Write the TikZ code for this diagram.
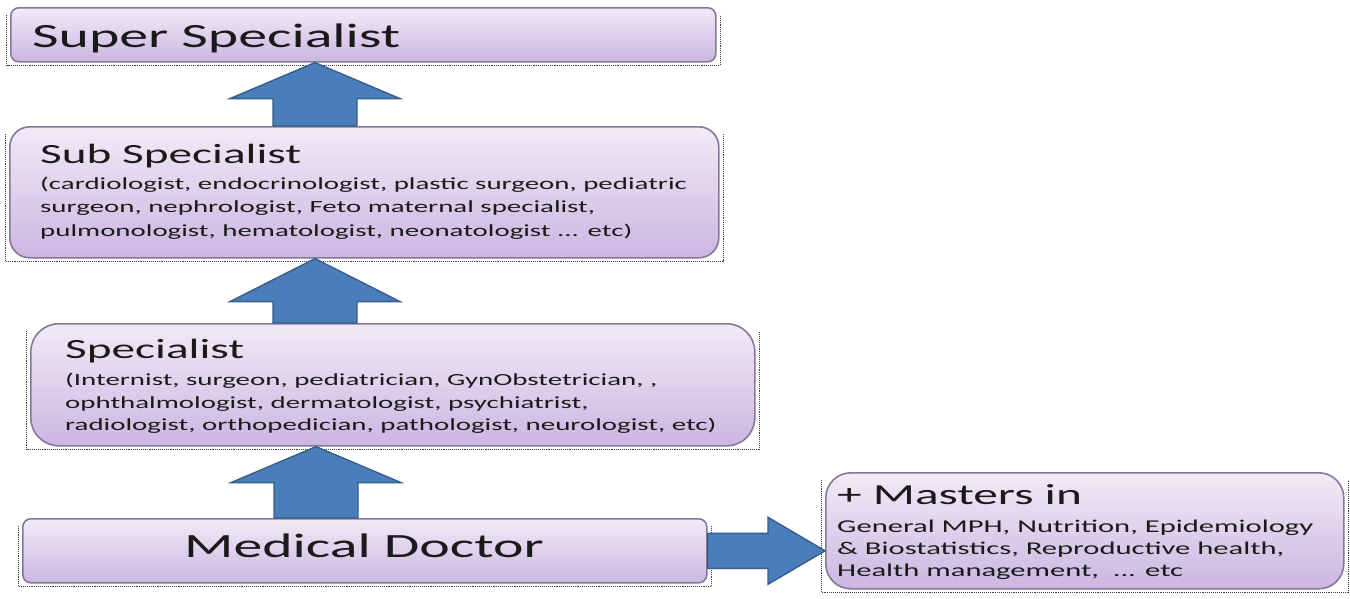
\documentclass[tikz,border=0pt]{standalone}
\usepackage{fontspec}
\setmainfont{Carlito}[FakeStretch=1.7]
\usetikzlibrary{calc}
\definecolor{boxtop}{HTML}{F1EBF7}
\definecolor{boxbot}{HTML}{CBB6E1}
\definecolor{boxline}{HTML}{86789A}
\definecolor{arrfill}{HTML}{4A7EBB}
\definecolor{arrline}{HTML}{385D8A}
\definecolor{ink}{HTML}{1A1A1A}
\tikzset{
  levelbox/.style={draw=boxline, line width=1.6pt, top color=boxtop, bottom color=boxbot,
    anchor=north west, inner sep=0pt, rectangle},
  blockarrow/.style={draw=arrline, fill=arrfill, line width=1.4pt, line join=miter},
  edgeshade/.style={black!75, densely dotted, line width=1.1pt},
  bigtext/.style={anchor=base west, inner sep=0pt, text=ink, font=\fontsize{34}{40}\selectfont},
  midtext/.style={anchor=base west, inner sep=0pt, text=ink, font=\fontsize{27.8}{32}\selectfont},
  smalltext/.style={anchor=base west, inner sep=0pt, text=ink, font=\fontsize{17}{20}\selectfont},
  masttitle/.style={anchor=base west, inner sep=0pt, text=ink, font=\fontsize{29}{34}\selectfont},
  mastsmall/.style={anchor=base west, inner sep=0pt, text=ink, font=\fontsize{18}{21}\selectfont},
}
% dotted edge under a box: left side, bottom, right side
\newcommand\edgeunder[1]{%
  \draw[edgeshade] ([xshift=-3.5pt,yshift=-8pt]#1.north west) -- ([xshift=-3.5pt,yshift=-3pt]#1.south west)
    -- ([xshift=3.5pt,yshift=-3pt]#1.south east) -- ([xshift=3.5pt,yshift=-8pt]#1.north east);}
% upward block arrow: #1 lower node, #2 upper node, #3 centre x, #4 head length
\newcommand\uparrowbetween[4]{%
  \draw[blockarrow] let \p1=(#1.north), \p2=(#2.south), \p3=(#3,0) in
    (\x3-42pt,\y1) -- (\x3-42pt,\y2-#4pt) -- (\x3-85pt,\y2-#4pt) -- (\x3,\y2)
    -- (\x3+85pt,\y2-#4pt) -- (\x3+42pt,\y2-#4pt) -- (\x3+42pt,\y1) -- cycle;}
\begin{document}
\begin{tikzpicture}[x=1pt,y=-1pt]
\useasboundingbox[fill=white] (0,0) rectangle (1350,598);

% level boxes
\node[levelbox, rounded corners=8pt, minimum width=705pt, minimum height=54pt] (super) at (10,7) {};
\node[levelbox, rounded corners=20pt, minimum width=709pt, minimum height=131pt] (sub) at (9,126) {};
\node[levelbox, rounded corners=28pt, minimum width=724pt, minimum height=122pt] (spec) at (30,323) {};
\node[levelbox, rounded corners=8pt, minimum width=684pt, minimum height=64pt] (md) at (22,518) {};
\node[levelbox, rounded corners=25pt, minimum width=518pt, minimum height=116pt] (mast) at (825,472) {};
\foreach \b in {super,sub,spec,md,mast} {\edgeunder{\b}}

% texts
\node[bigtext] (super-t) at (32,47) {Super Specialist};

\node[midtext] (sub-t) at (40,163) {Sub Specialist};
\node[smalltext] (sub-1) at (40,189) {(cardiologist, endocrinologist, plastic surgeon, pediatric};
\node[smalltext] (sub-2) at (40,212.5) {surgeon, nephrologist, Feto maternal specialist,};
\node[smalltext] (sub-3) at (40,236) {pulmonologist, hematologist, neonatologist ... etc)};

\node[midtext] (spec-t) at (65,358) {Specialist};
\node[smalltext] (spec-1) at (65,385.5) {(Internist, surgeon, pediatrician, GynObstetrician, ,};
\node[smalltext] (spec-2) at (65,408) {ophthalmologist, dermatologist, psychiatrist,};
\node[smalltext] (spec-3) at (65,430.5) {radiologist, orthopedician, pathologist, neurologist, etc)};

\node[anchor=base, inner sep=0pt, text=ink, font=\fontsize{34}{40}\selectfont] (md-t) at (364,557) {Medical Doctor};

\node[masttitle] (mast-t) at (837,504) {+ Masters in};
\node[mastsmall] (mast-1) at (837,532) {General MPH, Nutrition, Epidemiology};
\node[mastsmall] (mast-2) at (837,554) {\& Biostatistics, Reproductive health,};
\node[mastsmall] (mast-3) at (837,576) {Health management,~~... etc};

% arrows between levels
\uparrowbetween{sub}{super}{315}{36}
\uparrowbetween{spec}{sub}{315}{43}
\uparrowbetween{md}{spec}{316}{36}
\draw[blockarrow] let \p1=(md.east), \p2=(mast.west) in
  (\x1,\y1+17.5pt) -- (\x2-57pt,\y1+17.5pt) -- (\x2-57pt,\y1+33.5pt) -- (\x2,\y1)
  -- (\x2-57pt,\y1-33.5pt) -- (\x2-57pt,\y1-17.5pt) -- (\x1,\y1-17.5pt) -- cycle;
\end{tikzpicture}
\end{document}
